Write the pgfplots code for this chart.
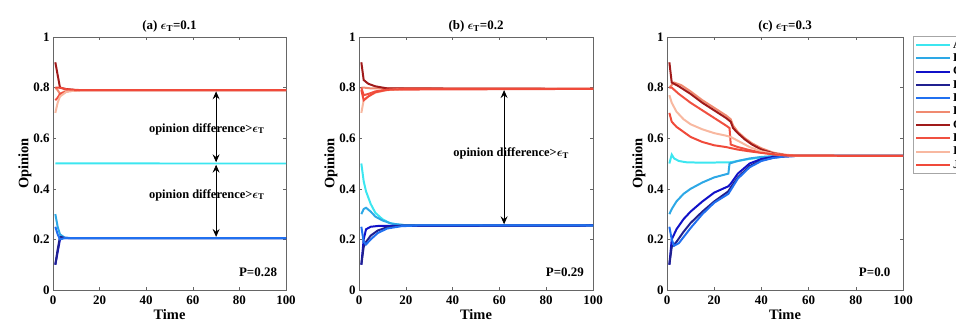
\documentclass[border=0pt]{standalone}
\usepackage{amsmath}
\usepackage{fontspec}
\setmainfont{Liberation Serif}
\usepackage{pgfplots}
\pgfplotsset{compat=1.18}
\usetikzlibrary{arrows.meta}
\definecolor{cA}{RGB}{60,230,240}
\definecolor{cB}{RGB}{45,168,230}
\definecolor{cC}{RGB}{16,16,200}
\definecolor{cD}{RGB}{32,32,144}
\definecolor{cE}{RGB}{32,112,240}
\definecolor{cF}{RGB}{240,138,112}
\definecolor{cG}{RGB}{160,26,26}
\definecolor{cH}{RGB}{240,80,64}
\definecolor{cI}{RGB}{248,184,160}
\definecolor{cJ}{RGB}{240,74,58}
\tikzset{dbl/.style={{Stealth[length=8bp,width=7bp,inset=3bp]}-{Stealth[length=8bp,width=7bp,inset=3bp]}, line width=0.7pt}}
\pgfplotsset{
  myax/.style={
    scale only axis, width=234bp, height=253bp,
    xmin=0, xmax=100, ymin=0, ymax=1,
    xtick={0,20,40,60,80,100}, ytick={0,0.2,0.4,0.6,0.8,1},
    tick align=inside, major tick length=3bp,
    axis line style={gray!80!black, line width=0.5pt},
    tick style={gray!80!black, line width=0.5pt},
    /pgf/number format/assume math mode=true,
    tick label style={font=\fontsize{13}{15}\selectfont\bfseries, black},
    xticklabel style={yshift=-2bp},
    label style={font=\fontsize{14.5}{16}\selectfont\bfseries},
    title style={font=\fontsize{13}{15}\selectfont\bfseries, yshift=-5bp},
    xlabel={Time}, ylabel={Opinion},
    xlabel style={yshift=2bp},
    ylabel style={yshift=-5bp},
    every axis plot/.append style={line width=2pt, no markers},
    clip=true,
  }
}
\newcommand{\epsT}{$\boldsymbol{\epsilon}_{\mathbf{T}}$}
\begin{document}
\begin{tikzpicture}[x=1bp,y=1bp]
\path[clip, use as bounding box] (0,0) rectangle (956,327);
% ---------------- (a)
\begin{axis}[myax, at={(53bp,37bp)}, anchor=south west, width=233bp,
  title={(a) \epsT=0.1}]
\addplot[cA] coordinates {(1,0.5) (2,0.5002) (50,0.5) (100,0.5)};
\addplot[cB] coordinates {(1,0.3) (2,0.25) (3,0.22) (5,0.207) (8,0.205) (100,0.205)};
\addplot[cC] coordinates {(1,0.1) (2,0.15) (3,0.2) (4,0.206) (6,0.205) (100,0.205)};
\addplot[cD] coordinates {(1,0.1) (2,0.16) (3,0.21) (5,0.206) (8,0.205) (100,0.205)};
\addplot[cE] coordinates {(1,0.25) (2,0.22) (3,0.2) (5,0.205) (100,0.205)};
\addplot[cF] coordinates {(1,0.8) (2,0.79) (3,0.775) (5,0.785) (10,0.79) (100,0.79)};
\addplot[cG] coordinates {(1,0.9) (2,0.85) (3,0.8) (5,0.795) (10,0.79) (100,0.79)};
\addplot[cH] coordinates {(1,0.75) (2,0.76) (3,0.775) (6,0.785) (12,0.79) (100,0.79)};
\addplot[cI] coordinates {(1,0.7) (2,0.74) (3,0.765) (6,0.785) (12,0.79) (100,0.79)};
\addplot[cJ] coordinates {(1,0.8) (3,0.8) (6,0.793) (12,0.79) (100,0.79)};
\draw[dbl] (axis cs:70,0.785) -- (axis cs:70,0.505);
\draw[dbl] (axis cs:70,0.495) -- (axis cs:70,0.21);
\node[font=\fontsize{12.5}{14}\selectfont\bfseries] at (axis cs:66,0.636) {opinion difference>\epsT};
\node[font=\fontsize{12.5}{14}\selectfont\bfseries] at (axis cs:66,0.375) {opinion difference>\epsT};
\node[font=\fontsize{13}{15}\selectfont\bfseries] at (axis cs:88,0.07) {P=0.28};
\end{axis}
% ---------------- (b)
\begin{axis}[myax, at={(359bp,37bp)}, anchor=south west,
  title={(b) \epsT=0.2}]
\addplot[cA] coordinates {(1,0.5) (2,0.43) (3,0.39) (5,0.34) (7,0.305) (10,0.28) (13,0.265) (17,0.258) (22,0.255) (100,0.255)};
\addplot[cB] coordinates {(1,0.3) (2,0.32) (3,0.325) (5,0.31) (7,0.29) (10,0.275) (14,0.262) (20,0.256) (100,0.255)};
\addplot[cC] coordinates {(1,0.1) (2,0.2) (3,0.24) (5,0.25) (8,0.253) (100,0.255)};
\addplot[cD] coordinates {(1,0.1) (2,0.17) (3,0.19) (5,0.215) (8,0.235) (12,0.248) (18,0.254) (100,0.255)};
\addplot[cE] coordinates {(1,0.25) (2,0.19) (3,0.18) (5,0.2) (8,0.225) (12,0.243) (18,0.252) (25,0.255) (100,0.255)};
\addplot[cF] coordinates {(1,0.8) (2,0.8) (5,0.797) (100,0.795)};
\addplot[cG] coordinates {(1,0.9) (2,0.83) (4,0.815) (7,0.805) (12,0.797) (100,0.795)};
\addplot[cH] coordinates {(1,0.8) (2,0.77) (4,0.775) (7,0.785) (12,0.792) (100,0.795)};
\addplot[cI] coordinates {(1,0.7) (2,0.75) (4,0.765) (7,0.78) (12,0.79) (20,0.795) (100,0.795)};
\addplot[cJ] coordinates {(1,0.79) (2,0.75) (4,0.765) (7,0.782) (12,0.791) (20,0.795) (100,0.795)};
\draw[dbl] (axis cs:62,0.79) -- (axis cs:62,0.26);
\node[font=\fontsize{12.5}{14}\selectfont\bfseries] at (axis cs:65,0.54) {opinion difference>\epsT};
\node[font=\fontsize{13}{15}\selectfont\bfseries] at (axis cs:88,0.07) {P=0.29};
\end{axis}
% ---------------- (c)
\begin{axis}[myax, at={(667bp,37bp)}, anchor=south west, width=236bp,
  title={(c) \epsT=0.3},
  legend style={at={(1,1)}, anchor=north west, xshift=10bp, yshift=1bp,
    draw=gray!70, line width=0.5pt, font=\fontsize{12}{13}\selectfont\bfseries,
    row sep=0bp, inner sep=2pt},
  legend cell align=left,
  legend image post style={line width=2pt},
  legend image code/.code={\draw[#1] (0bp,0bp) -- (34bp,0bp);}]
\addplot[cA] coordinates {(1,0.5) (2,0.535) (3,0.52) (5,0.51) (8,0.505) (15,0.503) (27,0.505) (30,0.51) (35,0.518) (40,0.524) (45,0.528) (50,0.53) (100,0.53)};
\addplot[cB] coordinates {(1,0.3) (2,0.32) (4,0.35) (7,0.38) (10,0.4) (15,0.425) (20,0.445) (26,0.46) (26.5,0.5) (30,0.51) (35,0.52) (40,0.526) (45,0.529) (50,0.53) (100,0.53)};
\addplot[cC] coordinates {(1,0.1) (2,0.2) (4,0.24) (7,0.28) (10,0.31) (15,0.35) (20,0.385) (26,0.41) (27,0.42) (30,0.46) (35,0.5) (40,0.518) (45,0.526) (50,0.529) (55,0.53) (100,0.53)};
\addplot[cD] coordinates {(1,0.1) (2,0.17) (4,0.19) (7,0.23) (10,0.265) (15,0.31) (20,0.35) (26,0.39) (27,0.405) (30,0.445) (35,0.49) (40,0.512) (45,0.523) (50,0.528) (55,0.53) (100,0.53)};
\addplot[cE] coordinates {(1,0.25) (2,0.2) (3,0.175) (5,0.185) (10,0.245) (15,0.3) (20,0.345) (26,0.38) (27,0.395) (30,0.44) (35,0.485) (40,0.51) (45,0.522) (50,0.528) (55,0.53) (100,0.53)};
\addplot[cF] coordinates {(1,0.8) (3,0.82) (6,0.81) (10,0.785) (15,0.75) (20,0.72) (25,0.69) (27,0.675) (28,0.65) (30,0.625) (33,0.6) (36,0.58) (40,0.56) (45,0.543) (50,0.535) (55,0.531) (100,0.53)};
\addplot[cG] coordinates {(1,0.9) (2,0.82) (5,0.805) (10,0.775) (15,0.74) (20,0.71) (25,0.68) (27,0.665) (28,0.64) (30,0.62) (33,0.595) (36,0.575) (40,0.555) (45,0.54) (50,0.533) (55,0.531) (100,0.53)};
\addplot[cH] coordinates {(1,0.8) (2,0.8) (5,0.775) (10,0.74) (15,0.71) (20,0.68) (25,0.65) (26.5,0.64) (27,0.575) (30,0.565) (35,0.553) (40,0.543) (45,0.536) (50,0.532) (55,0.53) (100,0.53)};
\addplot[cI] coordinates {(1,0.77) (2,0.74) (4,0.705) (7,0.675) (10,0.655) (15,0.635) (20,0.62) (25,0.61) (27,0.605) (30,0.59) (35,0.565) (40,0.548) (45,0.538) (50,0.533) (55,0.531) (100,0.53)};
\addplot[cJ] coordinates {(1,0.7) (2,0.665) (4,0.645) (7,0.625) (10,0.605) (15,0.585) (20,0.572) (25,0.565) (30,0.555) (35,0.548) (40,0.542) (45,0.537) (50,0.533) (55,0.531) (100,0.53)};
\legend{A,B,C,D,E,F,G,H,I,J}
\node[font=\fontsize{13}{15}\selectfont\bfseries] at (axis cs:88,0.07) {P=0.0};
\end{axis}
\end{tikzpicture}
\end{document}
